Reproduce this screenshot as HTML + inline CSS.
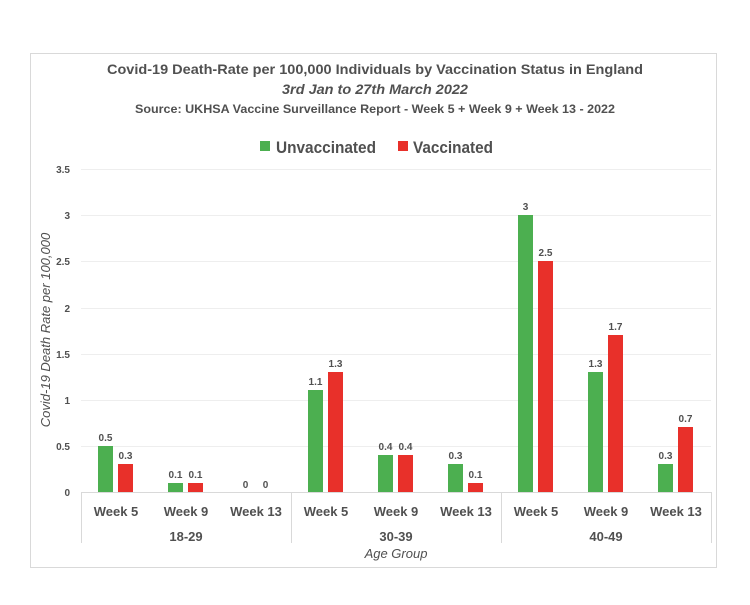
<!DOCTYPE html>
<html><head><style>body{margin:0;background:#fff}svg{display:block}text{font-family:"Liberation Sans",sans-serif;fill:#505050}</style></head><body>
<svg width="750" height="605" xmlns="http://www.w3.org/2000/svg">
<rect x="30.5" y="53.5" width="686" height="514" fill="#fff" stroke="#d9d9d9"/>
<text x="375" y="74" text-anchor="middle" font-size="14" font-weight="bold" textLength="536" lengthAdjust="spacingAndGlyphs">Covid-19 Death-Rate per 100,000 Individuals by Vaccination Status in England</text>
<text x="375" y="94" text-anchor="middle" font-size="14" font-weight="bold" font-style="italic" textLength="186" lengthAdjust="spacingAndGlyphs">3rd Jan to 27th March 2022</text>
<text x="375" y="113" text-anchor="middle" font-size="12" font-weight="bold" textLength="480" lengthAdjust="spacingAndGlyphs">Source: UKHSA Vaccine Surveillance Report - Week 5 + Week 9 + Week 13 - 2022</text>
<rect x="260" y="141" width="10" height="10" fill="#4caf50"/>
<text x="276" y="153" font-size="17" font-weight="bold" textLength="100" lengthAdjust="spacingAndGlyphs">Unvaccinated</text>
<rect x="398" y="141" width="10" height="10" fill="#e8302a"/>
<text x="413" y="153" font-size="17" font-weight="bold" textLength="80" lengthAdjust="spacingAndGlyphs">Vaccinated</text>
<g stroke="#eeeeee" stroke-width="1">
<line x1="81" x2="711" y1="169.5" y2="169.5"/><line x1="81" x2="711" y1="215.5" y2="215.5"/><line x1="81" x2="711" y1="261.5" y2="261.5"/><line x1="81" x2="711" y1="308.5" y2="308.5"/><line x1="81" x2="711" y1="354.5" y2="354.5"/><line x1="81" x2="711" y1="400.5" y2="400.5"/><line x1="81" x2="711" y1="446.5" y2="446.5"/>
</g>
<g stroke="#d9d9d9"><line x1="81" x2="711" y1="492.5" y2="492.5"/>
<line x1="81.5" x2="81.5" y1="492" y2="543"/><line x1="291.5" x2="291.5" y1="492" y2="543"/><line x1="501.5" x2="501.5" y1="492" y2="543"/><line x1="711.5" x2="711.5" y1="492" y2="543"/></g>
<g font-size="10" font-weight="bold" text-anchor="end">
<text x="70" y="173">3.5</text><text x="70" y="219">3</text><text x="70" y="265">2.5</text><text x="70" y="312">2</text><text x="70" y="358">1.5</text><text x="70" y="404">1</text><text x="70" y="450">0.5</text><text x="70" y="496">0</text>
</g>
<text transform="translate(50,330) rotate(-90)" text-anchor="middle" font-size="13" font-style="italic">Covid-19 Death Rate per 100,000</text>
<g font-size="13" font-weight="bold" text-anchor="middle">
<text x="116" y="516">Week 5</text><text x="186" y="516">Week 9</text><text x="256" y="516">Week 13</text>
<text x="326" y="516">Week 5</text><text x="396" y="516">Week 9</text><text x="466" y="516">Week 13</text>
<text x="536" y="516">Week 5</text><text x="606" y="516">Week 9</text><text x="676" y="516">Week 13</text>
<text x="186" y="541">18-29</text><text x="396" y="541">30-39</text><text x="606" y="541">40-49</text>
</g>
<text x="396" y="558" text-anchor="middle" font-size="13" font-style="italic">Age Group</text>
<g font-size="10" font-weight="bold" text-anchor="middle">
<rect x="98" y="446" width="15" height="46" fill="#4caf50"/><text x="105.5" y="441">0.5</text>
<rect x="118" y="464" width="15" height="28" fill="#e8302a"/><text x="125.5" y="459">0.3</text>
<rect x="168" y="483" width="15" height="9" fill="#4caf50"/><text x="175.5" y="478">0.1</text>
<rect x="188" y="483" width="15" height="9" fill="#e8302a"/><text x="195.5" y="478">0.1</text>
<text x="245.5" y="488">0</text><text x="265.5" y="488">0</text>
<rect x="308" y="390" width="15" height="102" fill="#4caf50"/><text x="315.5" y="385">1.1</text>
<rect x="328" y="372" width="15" height="120" fill="#e8302a"/><text x="335.5" y="367">1.3</text>
<rect x="378" y="455" width="15" height="37" fill="#4caf50"/><text x="385.5" y="450">0.4</text>
<rect x="398" y="455" width="15" height="37" fill="#e8302a"/><text x="405.5" y="450">0.4</text>
<rect x="448" y="464" width="15" height="28" fill="#4caf50"/><text x="455.5" y="459">0.3</text>
<rect x="468" y="483" width="15" height="9" fill="#e8302a"/><text x="475.5" y="478">0.1</text>
<rect x="518" y="215" width="15" height="277" fill="#4caf50"/><text x="525.5" y="210">3</text>
<rect x="538" y="261" width="15" height="231" fill="#e8302a"/><text x="545.5" y="256">2.5</text>
<rect x="588" y="372" width="15" height="120" fill="#4caf50"/><text x="595.5" y="367">1.3</text>
<rect x="608" y="335" width="15" height="157" fill="#e8302a"/><text x="615.5" y="330">1.7</text>
<rect x="658" y="464" width="15" height="28" fill="#4caf50"/><text x="665.5" y="459">0.3</text>
<rect x="678" y="427" width="15" height="65" fill="#e8302a"/><text x="685.5" y="422">0.7</text>
</g>
</svg>
</body></html>
